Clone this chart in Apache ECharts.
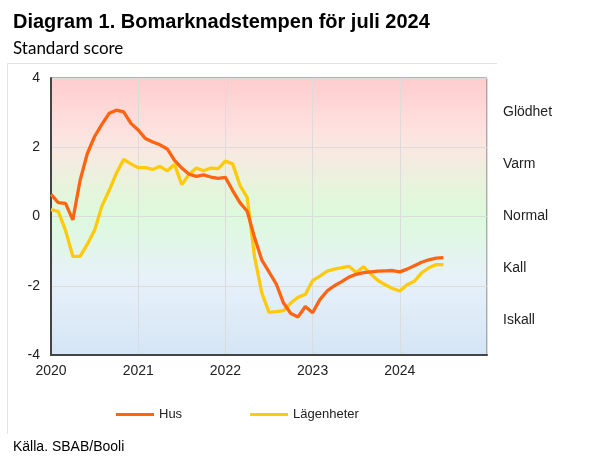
<!DOCTYPE html>
<html>
<head>
<meta charset="utf-8">
<script src="https://cdn.jsdelivr.net/npm/echarts@6/dist/echarts.min.js"></script>
<style>
html,body{margin:0;padding:0;background:#fff;}
#chart{width:608px;height:457px;}
</style>
</head>
<body>
<div id="chart"></div>
<script>
// Months (Jan 2020 – Jul 2024)
const months = [
  '2020-01','2020-02','2020-03','2020-04','2020-05','2020-06','2020-07','2020-08','2020-09','2020-10','2020-11','2020-12',
  '2021-01','2021-02','2021-03','2021-04','2021-05','2021-06','2021-07','2021-08','2021-09','2021-10','2021-11','2021-12',
  '2022-01','2022-02','2022-03','2022-04','2022-05','2022-06','2022-07','2022-08','2022-09','2022-10','2022-11','2022-12',
  '2023-01','2023-02','2023-03','2023-04','2023-05','2023-06','2023-07','2023-08','2023-09','2023-10','2023-11','2023-12',
  '2024-01','2024-02','2024-03','2024-04','2024-05','2024-06','2024-07'
];
const hus = [
  0.64, 0.40, 0.38, -0.10, 1.04, 1.82, 2.31, 2.66, 2.98, 3.07, 3.02, 2.69,
  2.50, 2.25, 2.15, 2.07, 1.95, 1.62, 1.40, 1.22, 1.16, 1.20, 1.14, 1.10,
  1.13, 0.75, 0.40, 0.15, -0.60, -1.25, -1.60, -1.95, -2.50, -2.80, -2.90, -2.60,
  -2.78, -2.40, -2.15, -2.00, -1.88, -1.75, -1.67, -1.62, -1.60, -1.58, -1.57, -1.56,
  -1.60, -1.52, -1.42, -1.32, -1.25, -1.20, -1.19
];
const lagenheter = [
  0.20, 0.15, -0.40, -1.15, -1.15, -0.80, -0.40, 0.30, 0.75, 1.25, 1.65, 1.52,
  1.41, 1.41, 1.36, 1.45, 1.32, 1.50, 0.92, 1.22, 1.40, 1.32, 1.40, 1.38,
  1.60, 1.52, 0.90, 0.55, -1.15, -2.20, -2.77, -2.75, -2.72, -2.50, -2.33, -2.25,
  -1.85, -1.72, -1.58, -1.52, -1.48, -1.44, -1.62, -1.45, -1.66, -1.85, -1.97, -2.08,
  -2.15, -1.97, -1.87, -1.63, -1.48, -1.39, -1.39
];
const yTicks = [4, 2, 0, -2, -4];
const xTickYears = ['2020','2021','2022','2023','2024'];
const zoneValues = [3, 1.5, 0, -1.5, -3];
const zoneLabels = ['Glödhet', 'Varm', 'Normal', 'Kall', 'Iskall'];
const seriesNames = ['Hus', 'Lägenheter'];

function toYear(m) {
  const p = m.split('-');
  return Number(p[0]) + (Number(p[1]) - 1) / 12;
}
const husData = months.map((m, i) => [toYear(m), hus[i]]);
const lagData = months.map((m, i) => [toYear(m), lagenheter[i]]);

const chart = echarts.init(document.getElementById('chart'), null, {renderer: 'canvas'});
const font = "'Liberation Sans', Arial, sans-serif";

chart.setOption({
  animation: false,
  backgroundColor: '#ffffff',
  title: [
    {
      text: 'Diagram 1. Bomarknadstempen för juli 2024',
      left: 8, top: 7,
      textStyle: {fontFamily: font, fontWeight: 'bold', fontSize: 20, color: '#000'}
    },
    {
      text: 'Standard score',
      left: 8, top: 35,
      textStyle: {fontFamily: "Lato, 'Liberation Sans', sans-serif", fontWeight: 'normal', fontSize: 17, color: '#000'}
    },
    {
      text: 'Källa. SBAB/Booli',
      left: 8, top: 435,
      textStyle: {fontFamily: font, fontWeight: 'normal', fontSize: 14, color: '#000'}
    }
  ],
  graphic: [
    {type: 'line', shape: {x1: 7.5, y1: 63.5, x2: 497, y2: 63.5}, style: {stroke: '#e3e3e3', lineWidth: 1}, silent: true},
    {type: 'line', shape: {x1: 7.5, y1: 63.5, x2: 7.5, y2: 434}, style: {stroke: '#e3e3e3', lineWidth: 1}, silent: true}
  ],
  legend: {
    data: seriesNames,
    left: 116, top: 408,
    padding: 0,
    icon: 'rect',
    itemWidth: 38, itemHeight: 3, itemGap: 68,
    textStyle: {fontFamily: font, fontSize: 13, color: '#222'}
  },
  grid: {
    left: 51, right: 121, top: 78, bottom: 102,
    show: true,
    borderColor: '#6b6b6b',
    borderWidth: 1,
    backgroundColor: new echarts.graphic.LinearGradient(0, 0, 0, 1, [
      {offset: 0, color: '#ffcccc'},
      {offset: 0.18, color: '#fee0df'},
      {offset: 0.27, color: '#f8e9e1'},
      {offset: 0.40, color: '#e6f4dc'},
      {offset: 0.50, color: '#dcfadc'},
      {offset: 0.72, color: '#e7f1f9'},
      {offset: 1, color: '#d5e5f5'}
    ])
  },
  xAxis: {
    type: 'value',
    min: 2020, max: 2025, interval: 1,
    axisLine: {show: true, onZero: false, lineStyle: {color: '#444', width: 2}},
    axisTick: {show: false},
    splitLine: {show: true, lineStyle: {color: '#dcdcdc', width: 1}},
    axisLabel: {
      margin: 9,
      fontFamily: font, fontSize: 14, color: '#222',
      formatter: v => { const s = String(Math.round(v)); return xTickYears.indexOf(s) >= 0 ? s : ''; }
    }
  },
  yAxis: [
    {
      type: 'value',
      min: -4, max: 4, interval: 2,
      axisLine: {show: true, lineStyle: {color: '#444', width: 2}},
      axisTick: {show: false},
      splitLine: {show: true, lineStyle: {color: '#dcdcdc', width: 1}},
      axisLabel: {
        margin: 11, fontFamily: font, fontSize: 14, color: '#222',
        formatter: v => (yTicks.indexOf(v) >= 0 ? String(v) : '')
      }
    },
    {
      type: 'value',
      position: 'right',
      min: -4, max: 4,
      axisLine: {show: false},
      axisTick: {show: false},
      splitLine: {show: false},
      axisLabel: {
        customValues: zoneValues,
        margin: 16, fontFamily: font, fontSize: 14, color: '#222',
        formatter: v => { const i = zoneValues.indexOf(v); return i >= 0 ? zoneLabels[i] : ''; }
      }
    }
  ],
  series: [
    {
      name: seriesNames[0], type: 'line', data: husData,
      showSymbol: false, symbol: 'none',
      lineStyle: {color: '#ff6412', width: 3.3},
      itemStyle: {color: '#ff6412'},
      z: 3
    },
    {
      name: seriesNames[1], type: 'line', data: lagData,
      showSymbol: false, symbol: 'none',
      lineStyle: {color: '#ffca0a', width: 3.3},
      itemStyle: {color: '#ffca0a'},
      z: 2
    }
  ]
});
</script>
</body>
</html>
